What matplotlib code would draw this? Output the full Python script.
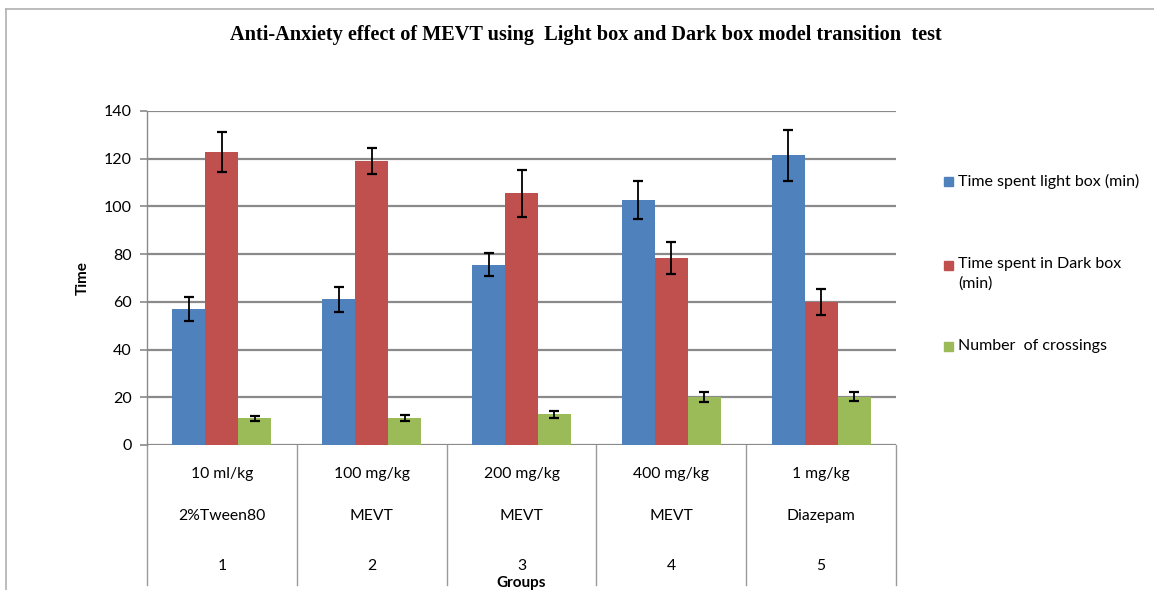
import numpy as np
import matplotlib.pyplot as plt
from matplotlib.lines import Line2D
from matplotlib.patches import Rectangle

# data
doses = ['10 ml/kg', '100 mg/kg', '200 mg/kg', '400 mg/kg', '1 mg/kg']
treatments = ['2%Tween80', 'MEVT', 'MEVT', 'MEVT', 'Diazepam']
group_ids = ['1', '2', '3', '4', '5']
series_names = ['Time spent light box (min)', 'Time spent in Dark box\n(min)', 'Number  of crossings']
light_box = [57.1, 61.0, 75.6, 102.7, 121.4]
light_err = [5.0, 5.4, 4.8, 8.0, 10.7]
dark_box = [122.8, 119.0, 105.5, 78.3, 60.1]
dark_err = [8.5, 5.6, 9.8, 6.6, 5.4]
crossings = [11.2, 11.2, 12.9, 20.3, 20.3]
cross_err = [1.0, 1.2, 1.5, 2.1, 1.9]
colors = ['#4F81BD', '#C0504D', '#9BBB59']

W, H = 1154, 590
fig = plt.figure(figsize=(W / 100, H / 100), dpi=100)
ax = fig.add_axes([147 / W, (H - 445) / H, (896 - 147) / W, (445 - 111) / H])

x = np.arange(len(doses))
bw = 0.22
values = [light_box, dark_box, crossings]
errs = [light_err, dark_err, cross_err]
for i, (v, e) in enumerate(zip(values, errs)):
    ax.bar(x + (i - 1) * bw, v, bw, color=colors[i], zorder=3)
    ax.errorbar(x + (i - 1) * bw, v, yerr=e, fmt='none', ecolor='black',
                elinewidth=1.3, capsize=3.5, capthick=1.6, zorder=4)

ax.set_xlim(-0.5, len(doses) - 0.5)
ax.set_ylim(0, 140)
ax.set_yticks(np.arange(0, 141, 20))
ax.yaxis.grid(True, color='#8a8a8a', linewidth=1.6, zorder=0)
ax.set_xticks([])
for s in ['top', 'right', 'bottom']:
    ax.spines[s].set_visible(False)
ax.spines['left'].set_color('#8a8a8a')
ax.spines['left'].set_linewidth(1.0)
ax.tick_params(axis='y', length=5, width=1.2, color='#8a8a8a', labelsize=11.5, pad=6)
for lab in ax.get_yticklabels():
    lab.set_fontfamily('Lato')

# multi-level category axis below the plot
trans = ax.get_xaxis_transform()
low = -(585 - 445) / 334
for b in np.arange(-0.5, len(doses), 1.0):
    ax.add_line(Line2D([b, b], [0, low], transform=trans, color='#9a9a9a',
                       linewidth=1.0, clip_on=False))
for i in range(len(doses)):
    ax.text(x[i], -(474 - 445) / 334, doses[i], transform=trans, ha='center',
            va='center', fontsize=11.3, family='Lato')
    ax.text(x[i], -(516 - 445) / 334, treatments[i], transform=trans, ha='center',
            va='center', fontsize=11.3, family='Lato')
    ax.text(x[i], -(566 - 445) / 334, group_ids[i], transform=trans, ha='center',
            va='center', fontsize=11.3, family='Lato')
ax.text(0.5, -(583 - 445) / 334, 'Groups', transform=ax.transAxes, ha='center',
        va='center', fontsize=11, fontweight='bold', family='Lato')
fig.text(83 / W, 1 - 278 / H, 'Time', rotation=90, ha='center', va='center',
         fontsize=11, fontweight='bold', family='Lato')

# title
fig.text(586 / W, 1 - 35 / H, 'Anti-Anxiety effect of MEVT using  Light box and Dark box model transition  test',
         ha='center', va='center', fontsize=14.6, fontweight='bold', family='Liberation Serif')

# legend
leg_y = [181, 265, 346]
for i, name in enumerate(series_names):
    fig.add_artist(Rectangle((944 / W, 1 - (leg_y[i] + 4.5) / H), 9 / W, 9 / H,
                             transform=fig.transFigure, color=colors[i]))
    fig.text(958 / W, 1 - (leg_y[i] - 8) / H if '\n' in name else 1 - leg_y[i] / H, name,
             ha='left', va='top' if '\n' in name else 'center',
             fontsize=11.5, family='Lato', linespacing=1.45)

# chart frame
fig.add_artist(Line2D([6 / W, 6 / W], [0, 1 - 9 / H], transform=fig.transFigure,
                      color='#b0b0b0', linewidth=1.2))
fig.add_artist(Line2D([6 / W, 1], [1 - 9 / H, 1 - 9 / H], transform=fig.transFigure,
                      color='#b0b0b0', linewidth=1.2))

fig.savefig('out.png', dpi=100)
